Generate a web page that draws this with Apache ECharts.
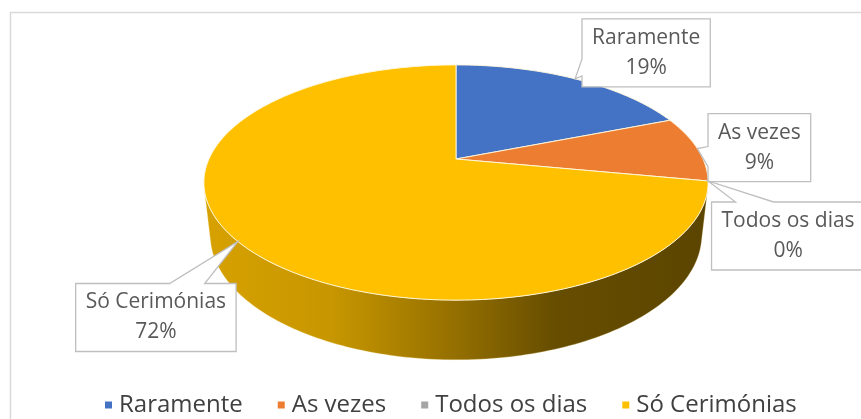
<!DOCTYPE html>
<html>
<head>
<meta charset="utf-8">
<script src="https://cdn.jsdelivr.net/npm/echarts@6/dist/echarts.min.js"></script>
<style>
  html, body { margin: 0; padding: 0; background: #fff; }
  #chart { width: 861px; height: 419px; }
</style>
</head>
<body>
<div id="chart"></div>
<script>
const categories = ['Raramente', 'As vezes', 'Todos os dias', 'Só Cerimónias']
const values = [19, 9, 0, 72]
const colors = ['#4472C4', '#ED7D31', '#A5A5A5', '#FFC000']

// callout boxes: offset of box centre from the slice's rim point,
// the side the pointer leaves from, and where the pointer base sits on that side
const callouts = [
  { dx: 71, dy: -26, side: 'left', from: 40, to: 57 },
  { dx: 62, dy: -1, side: 'left', from: 33, to: 53 },
  { dx: 80, dy: 55, side: 'top', from: 24, to: 62 },
  { dx: -82, dy: 76, side: 'top', from: 94, to: 129 },
]

// perspective view of the pie (unit radius disc)
const view = { cx: 456, cy: 159, k: 1098.7, dist: 4.448, tilt: 27.2 * Math.PI / 180, depth: 0.24 }
const labelFont = '21px "Open Sans"'

const total = values.reduce((a, b) => a + b, 0)
const starts = []
let acc = 0
values.forEach((v) => { starts.push(acc / total * 2 * Math.PI); acc += v })

function project(x, y, z) {
  const s = Math.sin(view.tilt), c = Math.cos(view.tilt)
  const d = view.dist - y * s + z * c
  const up = y * c + z * s
  return [view.cx + view.k * x / d, view.cy - view.k * up / d]
}

function rimPoint(phi, y) {
  return project(Math.sin(phi), y, Math.cos(phi))
}

// outer wall faces the viewer only on this arc
const wallFrom = Math.acos(-1 / (view.dist * Math.cos(view.tilt)))
const wallTo = 2 * Math.PI - wallFrom

function shade(hex, f) {
  const n = parseInt(hex.slice(1), 16)
  const r = Math.round(((n >> 16) & 255) * f)
  const g = Math.round(((n >> 8) & 255) * f)
  const b = Math.round((n & 255) * f)
  return `rgb(${r},${g},${b})`
}

const measureCtx = document.createElement('canvas').getContext('2d')
function textWidth(str) {
  measureCtx.font = labelFont
  return measureCtx.measureText(str).width
}

function calloutPoints(box, tip, co) {
  const { x0, y0, x1, y1 } = box
  const pts = [[x0, y0]]
  if (co.side === 'top') {
    pts.push([x0 + co.from, y0], tip, [x0 + co.to, y0])
  }
  pts.push([x1, y0], [x1, y1], [x0, y1])
  if (co.side === 'left') {
    pts.push([x0, y0 + co.to], tip, [x0, y0 + co.from])
  }
  return pts
}

function renderSlice(idx) {
  return function (params, api) {
    const a0 = starts[idx]
    const a1 = a0 + api.value(0) / total * 2 * Math.PI
    const children = []

    if (a1 > a0) {
      const steps = Math.max(2, Math.ceil((a1 - a0) / 0.02))
      const top = [project(0, 0, 0)]
      for (let j = 0; j <= steps; j++) top.push(rimPoint(a0 + (a1 - a0) * j / steps, 0))
      children.push({
        type: 'polygon', z2: 10,
        shape: { points: top },
        style: { fill: colors[idx], stroke: 'rgba(255,248,220,0.95)', lineWidth: 1 },
      })

      const w0 = Math.max(a0, wallFrom), w1 = Math.min(a1, wallTo)
      if (w1 > w0) {
        const n = Math.max(2, Math.ceil((w1 - w0) / 0.02))
        const wall = []
        for (let j = 0; j <= n; j++) wall.push(rimPoint(w0 + (w1 - w0) * j / n, 0))
        for (let j = n; j >= 0; j--) wall.push(rimPoint(w0 + (w1 - w0) * j / n, -view.depth))
        const xl = project(-1, 0, 0)[0], xr = project(1, 0, 0)[0]
        children.push({
          type: 'polygon', z2: 1,
          shape: { points: wall },
          style: {
            fill: new echarts.graphic.LinearGradient(xl, 0, xr, 0, [
              { offset: 0, color: shade(colors[idx], 0.84) },
              { offset: 0.25, color: shade(colors[idx], 0.78) },
              { offset: 0.5, color: shade(colors[idx], 0.58) },
              { offset: 0.7, color: shade(colors[idx], 0.40) },
              { offset: 1, color: shade(colors[idx], 0.36) },
            ], true),
            stroke: 'rgba(255,240,190,0.5)', lineWidth: 0.6,
          },
        })
      }
    }

    // callout
    const mid = (a0 + a1) / 2
    const tip = rimPoint(mid, 0)
    const co = callouts[idx]
    const pct = Math.round(api.value(0) / total * 100) + '%'
    const w = Math.max(textWidth(categories[idx]), textWidth(pct)) + 20
    const h = 68
    const bx = tip[0] + co.dx, by = tip[1] + co.dy
    const box = { x0: bx - w / 2, y0: by - h / 2, x1: bx + w / 2, y1: by + h / 2 }
    children.push({
      type: 'polygon', z2: 20,
      shape: { points: calloutPoints(box, tip, co) },
      style: { fill: '#fff', stroke: '#BFBFBF', lineWidth: 1.3 },
    })
    children.push({
      type: 'text', z2: 21,
      style: {
        text: categories[idx] + '\n' + pct,
        x: bx, y: by,
        align: 'center', verticalAlign: 'middle',
        font: labelFont, lineHeight: 30, fill: '#595959',
      },
    })

    return { type: 'group', children }
  }
}

const chart = echarts.init(document.getElementById('chart'))
chart.setOption({
  animation: false,
  backgroundColor: '#fff',
  graphic: [{
    type: 'rect', z: -1,
    shape: { x: 10.5, y: 12.5, width: 1000, height: 1000 },
    style: { fill: 'none', stroke: '#D9D9D9', lineWidth: 1.5 },
  }],
  legend: {
    data: categories,
    left: 100,
    top: 388,
    icon: 'rect',
    itemWidth: 7,
    itemHeight: 7,
    itemGap: 35,
    selectedMode: false,
    textStyle: { fontFamily: 'Open Sans', fontSize: 24, color: '#404040', padding: [0, 0, 0, 2] },
  },
  series: categories.map((name, idx) => ({
    name,
    type: 'custom',
    coordinateSystem: 'none',
    itemStyle: { color: colors[idx] },
    data: [values[idx]],
    renderItem: renderSlice(idx),
  })),
})
</script>
</body>
</html>
